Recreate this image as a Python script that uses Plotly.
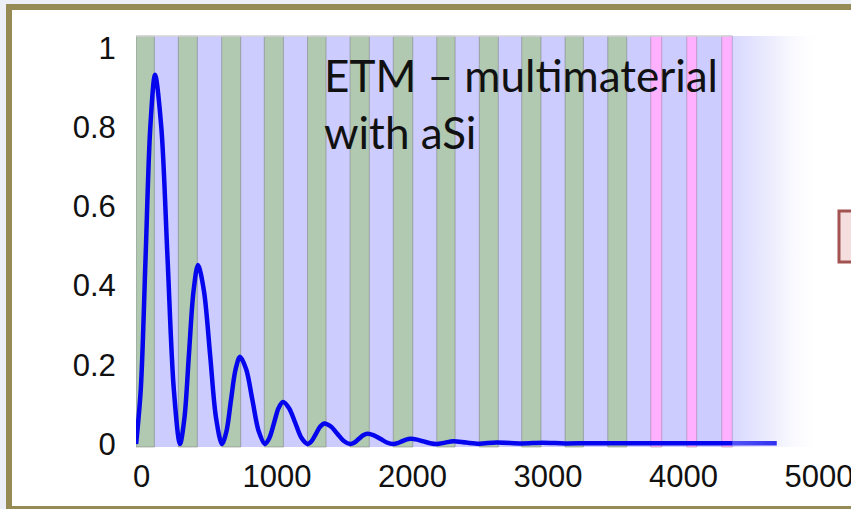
import plotly.graph_objects as go

W, H = 851, 509

# ---- data ----
depth = [-40, -5, 30, 65, 100, 146, 192, 238, 284,
         317, 350, 384, 417, 461, 506, 550, 594,
         627, 660, 694, 727, 773, 819, 865, 911,
         944, 978, 1011, 1044, 1089, 1135, 1180, 1225,
         1256, 1288, 1319, 1350, 1398, 1445, 1493, 1540,
         1572, 1604, 1636, 1668, 1715, 1763, 1810, 1858,
         1890, 1921, 1953, 1985, 2034, 2082, 2131, 2179,
         2240, 2300, 2397, 2493, 2620, 2806, 2960, 3126,
         3300, 3500, 3800, 4100, 4400, 4688]
field = [0, 0.14, 0.47, 0.80, 0.932, 0.80, 0.47, 0.14, 0,
         0.066, 0.226, 0.386, 0.452, 0.386, 0.226, 0.066, 0,
         0.032, 0.11, 0.188, 0.22, 0.188, 0.11, 0.032, 0,
         0.0155, 0.053, 0.0905, 0.106, 0.0905, 0.053, 0.0155, 0,
         0.0076, 0.026, 0.044, 0.052, 0.044, 0.026, 0.0076, 0,
         0.0038, 0.013, 0.022, 0.026, 0.022, 0.013, 0.0038, 0,
         0.002, 0.0065, 0.011, 0.013, 0.011, 0.0065, 0.002, 0,
         0.0035, 0.007, 0.0035, 0.0008, 0.004, 0.0015, 0.003, 0.0015,
         0.002, 0.002, 0.002, 0.002, 0.002, 0.002]

green_start = [-40, 272, 592, 906, 1225, 1539, 1858, 2179, 2493, 2806, 3126, 3441]
green_end = [95, 412, 732, 1047, 1362, 1681, 2002, 2314, 2633, 2948, 3261, 3581]
pink_start = [3758, 4024, 4282]
pink_end = [3839, 4097, 4360]
stack_start, stack_end = -40, 4360
substrate_end = 5035

x_ticks = [0, 1000, 2000, 3000, 4000, 5000]
y_ticks = [0, 0.2, 0.4, 0.6, 0.8, 1]
y_ticktext = ["0", "0.2", "0.4", "0.6", "0.8", "1"]
x_range = [-40.6, 5103]
y_range = [-0.0076, 1.030]

title_text = "ETM – multimaterial<br>with aSi"

# ---- helpers for pixel placement ----
def px(x):
    return x / W

def py(y):
    return 1 - y / H

fig = go.Figure()

# curve
fig.add_trace(go.Scatter(
    x=depth, y=field, mode="lines",
    line=dict(color="#0505ee", width=4.5, shape="spline", smoothing=0.9),
    hoverinfo="skip", showlegend=False))

# substrate gradient (over the curve)
fig.add_trace(go.Scatter(
    x=[stack_end, substrate_end, substrate_end, stack_end, stack_end],
    y=[y_range[0], y_range[0], y_range[1], y_range[1], y_range[0]],
    mode="lines", line=dict(width=0), fill="toself",
    fillgradient=dict(type="horizontal",
                      colorscale=[[0, "rgba(170,170,255,0.47)"],
                                  [0.45, "rgba(185,185,250,0.25)"],
                                  [1, "rgba(255,255,255,0)"]]),
    hoverinfo="skip", showlegend=False))

shapes = []
# slide background and frame
shapes.append(dict(type="rect", xref="paper", yref="paper", x0=px(6), x1=px(W + 5), y0=py(4), y1=py(H + 5),
                   fillcolor="#978b55", line=dict(width=0), layer="below"))
shapes.append(dict(type="rect", xref="paper", yref="paper", x0=px(12), x1=px(W + 5), y0=py(10), y1=py(506),
                   fillcolor="white", line=dict(width=0), layer="below"))
# partial box at right edge
shapes.append(dict(type="rect", xref="paper", yref="paper", x0=px(839), x1=px(W + 10), y0=py(211), y1=py(262),
                   fillcolor="#f5dede", line=dict(width=3, color="#a35252"), layer="below"))

# lavender stack background
shapes.append(dict(type="rect", xref="x", yref="y domain", x0=stack_start, x1=stack_end, y0=0, y1=1,
                   fillcolor="#ccccff", line=dict(width=0), layer="below"))
# green layers
for a, b in zip(green_start, green_end):
    shapes.append(dict(type="rect", xref="x", yref="y domain", x0=a, x1=b, y0=0, y1=1,
                       fillcolor="#b0c9b0", line=dict(width=1, color="rgba(120,120,120,0.5)"),
                       layer="below"))
# pink layers
for a, b in zip(pink_start, pink_end):
    shapes.append(dict(type="rect", xref="x", yref="y domain", x0=a, x1=b, y0=0, y1=1,
                       fillcolor="#ffb0ff", line=dict(width=1, color="rgba(150,120,150,0.5)"),
                       layer="below"))
# top edge line
shapes.append(dict(type="line", xref="x", yref="y domain", x0=stack_start, x1=stack_end, y0=1, y1=1,
                   line=dict(width=1.5, color="#d4d4d8"), layer="below"))

tick_font = dict(size=31, family="Liberation Sans, Arial, sans-serif", color="#111111")

fig.update_layout(
    width=W, height=H,
    margin=dict(l=0, r=0, t=0, b=0, autoexpand=False),
    paper_bgcolor="#eceff5",
    plot_bgcolor="rgba(0,0,0,0)",
    shapes=shapes,
    showlegend=False,
    font=dict(family="Liberation Sans, Arial, sans-serif", color="#111111"),
    xaxis=dict(domain=[px(136), px(833)], range=x_range, tickvals=x_ticks,
               ticktext=[str(v) for v in x_ticks], automargin=False,
               showgrid=False, zeroline=False, showline=False,
               ticks="outside", ticklen=2, tickcolor="rgba(0,0,0,0)",
               ticklabeloverflow="allow", tickfont=tick_font),
    yaxis=dict(domain=[py(447), py(36)], range=y_range, tickvals=y_ticks,
               ticktext=y_ticktext, automargin=False,
               showgrid=False, zeroline=False, showline=False,
               ticks="outside", ticklen=13, tickcolor="rgba(0,0,0,0)",
               ticklabeloverflow="allow", tickfont=tick_font),
    annotations=[dict(text=title_text, xref="paper", yref="paper", x=px(322), y=py(47),
                      xanchor="left", yanchor="top", align="left", showarrow=False,
                      font=dict(family="Lato, sans-serif", size=44, color="#111111"))],
)

fig.write_html("out.html", config={"displayModeBar": False},
               post_script="document.body.style.margin='0';")
